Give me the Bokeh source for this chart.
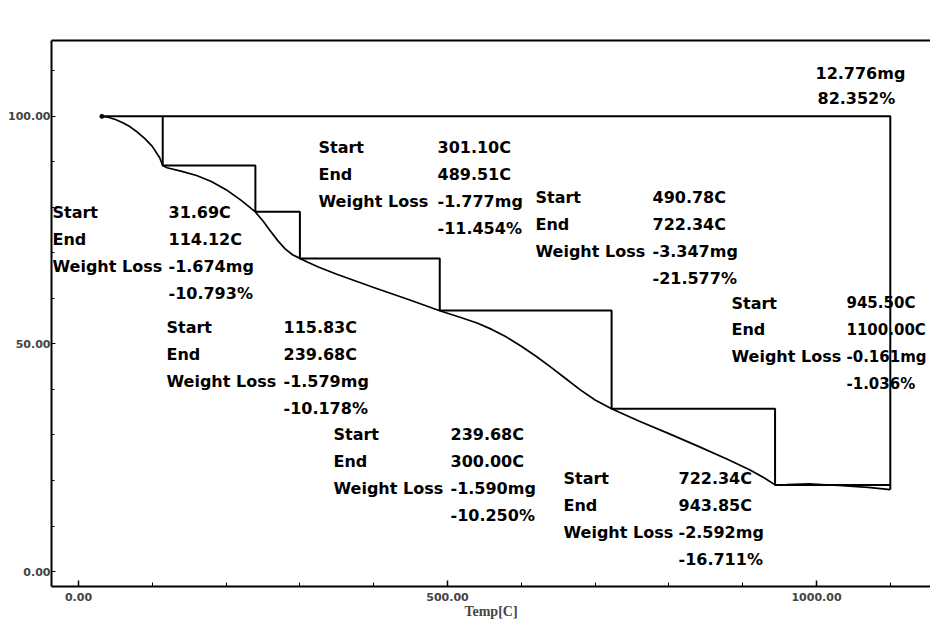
from bokeh.plotting import figure
from bokeh.models import Range1d, FixedTicker, LinearAxis, Label, ColumnDataSource
from bokeh.core.properties import value
from bokeh.embed import file_html
from bokeh.resources import INLINE
import numpy as np

# ---------------- data ----------------
temps = [31.69, 40, 50, 60, 70, 80, 90, 100, 110, 114.12, 120, 140, 160, 180, 200, 220,
         239.68, 250, 260, 270, 280, 290, 300, 310, 325, 350, 400, 450, 489.51, 520, 540,
         560, 580, 600, 620, 640, 660, 680, 700, 722.34, 760, 800, 840, 880, 910, 930,
         943.85, 960, 990, 1030, 1070, 1100]
tga = [100, 99.8, 99.3, 98.6, 97.7, 96.5, 95.1, 93.4, 90.9, 89.2, 88.7, 87.9, 87.0, 85.7,
       83.9, 81.6, 79.0, 77.0, 74.8, 72.7, 70.9, 69.6, 68.8, 68.0, 66.9, 65.3, 62.4, 59.6,
       57.3, 55.7, 54.6, 53.2, 51.5, 49.5, 47.3, 44.9, 42.4, 39.9, 37.7, 35.75, 33.0, 30.3,
       27.5, 24.6, 22.3, 20.5, 19.04, 19.1, 19.25, 18.9, 18.5, 18.0]

step_start = [31.69, 115.83, 239.68, 301.10, 490.78, 722.34, 945.50]
step_end = [114.12, 239.68, 300.00, 489.51, 722.34, 943.85, 1100.00]
loss_mg = [-1.674, -1.579, -1.590, -1.777, -3.347, -2.592, -0.161]
loss_pct = [-10.793, -10.178, -10.250, -11.454, -21.577, -16.711, -1.036]
total_mg = 12.776
total_pct = 82.352

x_ticks = [0, 500, 1000]
x_tick_labels = ["0.00", "500.00", "1000.00"]
y_ticks = [0, 50, 100]
y_tick_labels = ["0.00", "50.00", "100.00"]

# ---------------- layout helpers (pixel -> data) ----------------
X0PX, XSCALE = 78.0, 0.738     # px of T=0, px per degree
Y0PX, YSCALE = 572.0, 4.56     # px of 0 %, px per percent


def px2x(px):
    return (px - X0PX) / XSCALE


def py2y(py):
    return (Y0PX - py) / YSCALE


W, H = 930, 621
FL, FT, FB = 51, 40, 587

p = figure(width=W, height=H, output_backend="svg", toolbar_location=None,
           x_range=Range1d(px2x(FL), px2x(W)), y_range=Range1d(py2y(FB), py2y(FT)),
           min_border_left=FL, min_border_right=0, min_border_top=FT,
           min_border_bottom=H - FB, x_axis_location=None, y_axis_location=None)
p.outline_line_color = None
p.grid.visible = False
p.background_fill_color = "white"
p.border_fill_color = "white"

# axes
xa = LinearAxis(ticker=FixedTicker(ticks=x_ticks, minor_ticks=list(range(0, 1200, 100))))
xa.major_label_overrides = {t: l for t, l in zip(x_ticks, x_tick_labels)}
xa.axis_label = "Temp[C]"
xa.axis_label_text_font = "Liberation Serif"
xa.axis_label_text_font_style = "bold"
xa.axis_label_text_font_size = "14px"
xa.axis_label_standoff = 0
xa.major_label_text_font = "DejaVu Sans"
xa.major_label_text_font_style = "bold"
xa.major_label_text_font_size = "11px"
xa.major_label_standoff = 6
xa.axis_line_width = 2
xa.major_tick_in = 6
xa.major_tick_out = 0
xa.minor_tick_in = 4
xa.minor_tick_out = 0
xa.major_tick_line_width = 1.5
p.add_layout(xa, "below")

ya = LinearAxis(ticker=FixedTicker(ticks=y_ticks, minor_ticks=list(range(0, 120, 10))))
ya.major_label_overrides = {t: l for t, l in zip(y_ticks, y_tick_labels)}
ya.major_label_text_font = "DejaVu Sans"
ya.major_label_text_font_style = "bold"
ya.major_label_text_font_size = "11px"
ya.major_label_standoff = 1
ya.axis_line_width = 2
ya.major_tick_in = 4
ya.major_tick_out = 0
ya.minor_tick_in = 3
ya.minor_tick_out = 0
p.add_layout(ya, "left")

ta = LinearAxis(ticker=FixedTicker(ticks=[]))
ta.axis_line_width = 2
ta.major_label_text_font_size = "0px"
ta.major_tick_in = 0
ta.major_tick_out = 0
ta.minor_tick_in = 0
ta.minor_tick_out = 0
p.add_layout(ta, "above")

# step lines
levels = list(100 + np.cumsum(loss_pct))
sx, sy = [], []
prev = 100.0
for i in range(len(step_end) - 1):
    sx += [step_end[i], step_end[i], step_end[i + 1]]
    sy += [prev, levels[i], levels[i]]
    prev = levels[i]
p.line(sx, sy, line_color="black", line_width=2)
p.line([step_start[0], step_end[-1], step_end[-1]], [100, 100, levels[-1]],
       line_color="black", line_width=2)

# curve
p.line(temps, tga, line_color="black", line_width=1.7)
p.scatter([temps[0]], [tga[0]], size=4, color="black")

# annotation blocks: (label column px, value column px, first row px, value font size)
blocks = [(52, 168, 212, 16), (166, 283, 328, 16), (333, 450, 435, 16), (318, 437, 147, 16),
          (535, 652, 197, 16), (563, 678, 479, 16), (731, 846, 303, 15)]
ROW = 27
tx, ty, tt, tf = [], [], [], []
for i, (lx, vx, sy0, fs) in enumerate(blocks):
    labels = ["Start", "End", "Weight Loss", ""]
    vals = ["%.2fC" % step_start[i], "%.2fC" % step_end[i],
            "%.3fmg" % loss_mg[i], "%.3f%%" % loss_pct[i]]
    for r in range(4):
        yy = py2y(sy0 + r * ROW)
        if labels[r]:
            tx.append(px2x(lx)); ty.append(yy); tt.append(labels[r]); tf.append("16px")
        tx.append(px2x(vx)); ty.append(yy); tt.append(vals[r]); tf.append("%dpx" % fs)
tx += [px2x(815), px2x(817)]
ty += [py2y(73), py2y(98)]
tt += ["%.3fmg" % total_mg, "%.3f%%" % total_pct]
tf += ["16px", "16px"]

src = ColumnDataSource(dict(x=tx, y=ty, t=tt, fs=tf))
p.text(x="x", y="y", text="t", source=src, text_font=value("DejaVu Sans"),
       text_font_style="bold", text_font_size="fs", text_baseline="middle",
       text_align="left", text_color="black")

# y-axis title
p.add_layout(Label(x=px2x(38), y=py2y(22), text="TGA", text_font="DejaVu Sans",
                   text_font_style="bold", text_font_size="11px", text_align="center",
                   text_baseline="middle"))
p.add_layout(Label(x=px2x(44), y=py2y(35), text="%", text_font="DejaVu Sans",
                   text_font_style="bold", text_font_size="11px", text_align="center",
                   text_baseline="middle"))

open("out.html", "w").write(file_html(p, INLINE))
